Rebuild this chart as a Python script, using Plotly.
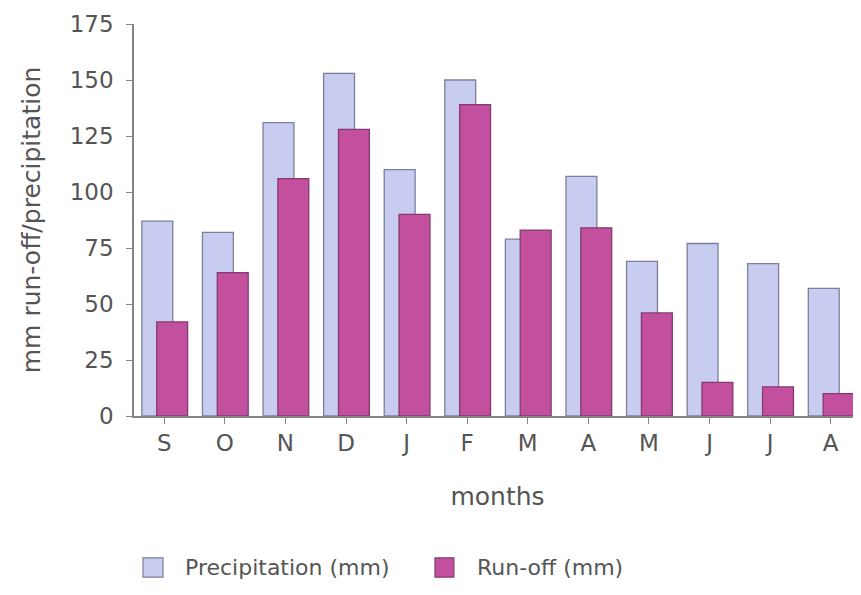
import plotly.graph_objects as go

months = ["S", "O", "N", "D", "J", "F", "M", "A", "M", "J", "J", "A"]
precipitation = [87, 82, 131, 153, 110, 150, 79, 107, 69, 77, 68, 57]
runoff = [42, 64, 106, 128, 90, 139, 83, 84, 46, 15, 13, 10]
y_ticks = [0, 25, 50, 75, 100, 125, 150, 175]

PRECIP_FILL, PRECIP_LINE = "#c9ccf1", "#7d7f99"
RUNOFF_FILL, RUNOFF_LINE = "#c2509f", "#843a70"
TEXT = "#555555"
AXIS = "#858585"
FONT = "DejaVu Sans, Liberation Sans, sans-serif"

x_idx = list(range(len(months)))

fig = go.Figure()
fig.add_trace(go.Bar(
    x=x_idx, y=precipitation, name="Precipitation (mm)",
    width=0.51, offset=-0.37, showlegend=False,
    marker=dict(color=PRECIP_FILL, line=dict(color=PRECIP_LINE, width=1.3)),
))
fig.add_trace(go.Bar(
    x=x_idx, y=runoff, name="Run-off (mm)",
    width=0.51, offset=-0.125, showlegend=False,
    marker=dict(color=RUNOFF_FILL, line=dict(color=RUNOFF_LINE, width=1.3)),
))

fig.update_layout(
    width=861, height=595,
    barmode="overlay",
    paper_bgcolor="white", plot_bgcolor="white",
    margin=dict(l=126, r=8, t=16, b=187),
    font=dict(family=FONT, size=22, color=TEXT),
)

# custom legend (boxes + labels)
legend_items = [
    (0.0124, 0.0399, 0.0674, PRECIP_FILL, PRECIP_LINE, "Precipitation (mm)"),
    (0.414, 0.440, 0.469, RUNOFF_FILL, RUNOFF_LINE, "Run-off (mm)"),
]
for x0, x1, xt, fill, line, label in legend_items:
    fig.add_shape(type="rect", xref="paper", yref="paper",
                  x0=x0, x1=x1, y0=-0.411, y1=-0.362,
                  fillcolor=fill, line=dict(color=line, width=1.2))
    fig.add_annotation(xref="paper", yref="paper", x=xt, y=-0.386,
                       xanchor="left", yanchor="middle", showarrow=False,
                       text=label, font=dict(size=22, color=TEXT, family=FONT))

fig.update_xaxes(
    range=[-0.5, 11.5], automargin=False,
    tickmode="array", tickvals=x_idx, ticktext=months,
    tickson="boundaries",
    showline=True, linecolor=AXIS, linewidth=1.5,
    ticks="outside", ticklen=6, tickcolor=AXIS,
    showgrid=False, zeroline=False,
    tickfont=dict(size=23, color=TEXT, family=FONT),
    title=dict(text="months", font=dict(size=25, color=TEXT, family=FONT), standoff=32),
)
fig.update_yaxes(
    range=[0, 175], automargin=False, ticklabeloverflow="allow",
    tickmode="array", tickvals=y_ticks,
    showline=True, linecolor=AXIS, linewidth=1.5,
    ticks="outside", ticklen=6, tickcolor=AXIS, ticklabelstandoff=8,
    showgrid=False, zeroline=False,
    tickfont=dict(size=23, color=TEXT, family=FONT),
    title=dict(text="mm run-off/precipitation", font=dict(size=25, color=TEXT, family=FONT), standoff=22),
)

fig.write_html("out.html")
